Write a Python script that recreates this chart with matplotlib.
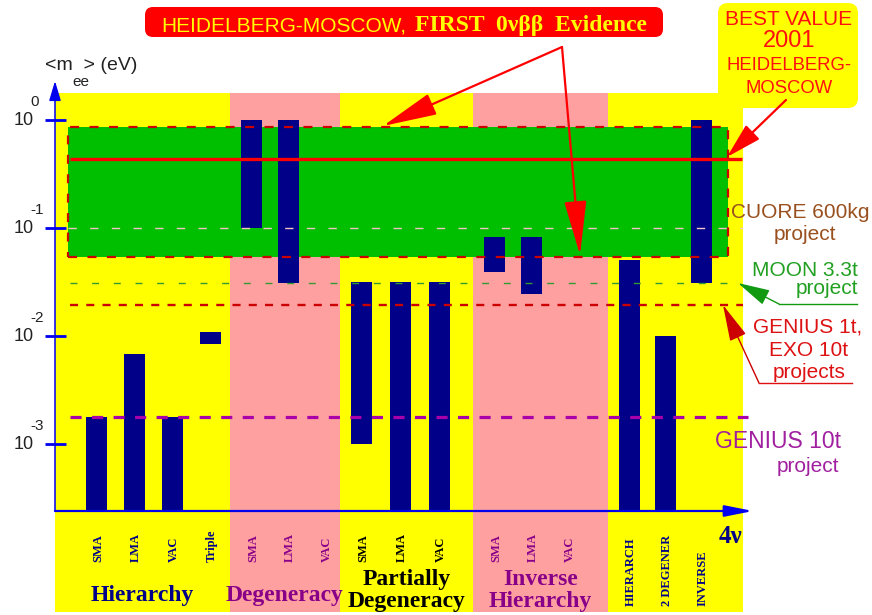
import matplotlib.pyplot as plt
from matplotlib.patches import Rectangle, FancyBboxPatch, FancyArrowPatch
from matplotlib.lines import Line2D
from matplotlib.transforms import blended_transform_factory

plt.rcParams['font.family'] = ['Liberation Sans', 'DejaVu Sans']
plt.rcParams['lines.scale_dashes'] = False

# groups of scenarios and the <m_ee> range of each bar (eV)
# None = no bar, 0 = bar goes down to the axis
groups = ["Hierarchy", "Degeneracy", "Partially\nDegeneracy", "Inverse\nHierarchy", "4ν"]
slots = [["SMA", "LMA", "VAC", "Triple"],
         ["SMA", "LMA", "VAC"],
         ["SMA", "LMA", "VAC"],
         ["SMA", "LMA", "VAC"],
         ["HIERARCH", "2 DEGENER", "INVERSE"]]
m_top = [[1.8e-3, 6.8e-3, 1.8e-3, 1.09e-2],
         [1.0, 1.0, None],
         [3.2e-2, 3.2e-2, 3.2e-2],
         [8.3e-2, 8.3e-2, None],
         [5.1e-2, 1.0e-2, 1.0]]
m_bot = [[0, 0, 0, 8.5e-3],
         [0.1, 3.1e-2, None],
         [1.0e-3, 0, 0],
         [3.95e-2, 2.45e-2, None],
         [0, 0, 3.1e-2]]

# experiment values / sensitivities (eV)
hm_range = (0.054, 0.87)
hm_best = 0.44
cuore = 0.1
moon = 0.031
genius_1t = 0.0195
genius_10t = 1.8e-3
yticks = [0, -1, -2, -3]

NAVY = '#000088'
PURPLE = '#880088'
BLUE = '#0000EE'
label_colors = [NAVY, PURPLE, 'black', PURPLE, NAVY]
panel_colors = ['#FFFF00', '#FFA0A0', '#FFFF00', '#FFA0A0', '#FFFF00']

# layout (axis x units = pixels from the y axis)
panel_edges = [0, 175, 285, 418, 553, 688]
slot_start = [41.5, 21.5, 21.5, 21.5, 21.5]
slot_pitch = [38, 37, 39, 37, 36]
floor = 10 ** -3.617

W, H = 872, 615
fig = plt.figure(figsize=(W / 100, H / 100), dpi=100)
inch = fig.dpi_scale_trans


def P(x, y):
    return (x / 100, (H - y) / 100)


ax = fig.add_axes([55 / W, 1 - 612 / H, 688 / W, 519 / H])
ax.set_yscale('log')
ax.set_ylim(10 ** -4.551, 10 ** 0.2498)
ax.set_xlim(0, 688)
for s in ax.spines.values():
    s.set_visible(False)
ax.tick_params(axis='both', which='both', length=0, labelleft=False, labelbottom=False)

lab_tr = blended_transform_factory(ax.transData, inch)

for g in range(len(groups)):
    ax.axvspan(panel_edges[g], panel_edges[g + 1], color=panel_colors[g], lw=0, zorder=0)
    for i, name in enumerate(slots[g]):
        x = panel_edges[g] + slot_start[g] + i * slot_pitch[g]
        top, bot = m_top[g][i], m_bot[g][i]
        if top is not None:
            b = floor if bot == 0 else bot
            ax.bar(x, top - b, bottom=b, width=21.5, color=NAVY, zorder=3)
        ybase = 606 if g == 4 else 562
        ax.text(x + 1.5, P(0, ybase)[1], name, transform=lab_tr, rotation=90,
                ha='center', va='bottom', fontsize=9, fontweight='bold',
                family='Liberation Serif', color=label_colors[g])
    if g < 4:
        xc = (panel_edges[g] + panel_edges[g + 1]) / 2
        lines = groups[g].split("\n")
        bases = [601] if len(lines) == 1 else [585, 607]
        for txt, yb in zip(lines, bases):
            ax.text(xc, P(0, yb)[1], txt, transform=lab_tr, ha='center', va='baseline',
                    fontsize=17, fontweight='bold', family='Liberation Serif',
                    color=label_colors[g], clip_on=False)

fig.text(*P(742, 543), groups[4], transform=inch, ha='right', va='baseline',
         fontsize=18, fontweight='bold', family='Liberation Serif', color=NAVY)

# HM evidence band
ax.add_patch(Rectangle((13, hm_range[0]), 660, hm_range[1] - hm_range[0],
                       fc='#00BF00', ec='none', zorder=2))
ax.add_patch(Rectangle((13, hm_range[0]), 660, hm_range[1] - hm_range[0],
                       fill=False, ec='#CC0000', lw=1.6, ls=(0, (6.5, 7.5)), zorder=4))
ax.hlines(hm_best, 15, 687, color='#FF0000', lw=2.4, zorder=5)
ax.hlines(cuore, 13, 688, color='#F4C4C4', lw=1.0, ls=(0, (6, 9.6)), zorder=5)
ax.hlines(moon, 15, 685, color='#339933', lw=1.0, ls=(0, (5, 10.6)), zorder=5)
ax.hlines(genius_1t, 15, 688, color='#CC0000', lw=1.7, ls=(0, (5.8, 5.9)), zorder=5)
ax.hlines(genius_10t, 15, 693, color='#AA00AA', lw=2.3, ls=(0, (8, 7.5)), zorder=5,
          clip_on=False)

# axes with arrows
fig.add_artist(FancyArrowPatch(P(55, 511), P(55, 81), transform=inch, color=BLUE, lw=1.1,
                               arrowstyle='-|>,head_length=12,head_width=3.6',
                               shrinkA=0, shrinkB=0))
fig.add_artist(FancyArrowPatch(P(55, 511), P(753, 511), transform=inch, color=BLUE, lw=1.6,
                               arrowstyle='-|>,head_length=17,head_width=3.4',
                               shrinkA=0, shrinkB=0))
for k in yticks:
    ax.hlines(10.0 ** k, -10, 11, color=BLUE, lw=2, clip_on=False, zorder=6)
    ax.text(-21, 10.0 ** k, "10", ha='right', va='center', fontsize=13, color='#222222',
            clip_on=False)
    ax.annotate(str(k), (-25, 10.0 ** k), xytext=(0, 13), textcoords='offset points',
                ha='left', va='center', fontsize=11, color='#222222', annotation_clip=False)

fig.text(*P(45, 65), "<m  > (eV)", transform=inch, ha='left', va='center',
         fontsize=14, color='#222222')
fig.text(*P(72, 82), "ee", transform=inch, ha='left', va='center', fontsize=11,
         color='#222222')

# title banner
fig.add_artist(FancyBboxPatch(P(145, 37), 5.18, 0.30, transform=inch,
                              boxstyle='round,pad=0,rounding_size=0.08', fc='#FF0000', ec='none'))
fig.text(*P(161, 31), "HEIDELBERG-MOSCOW,", transform=inch, ha='left', va='baseline',
         fontsize=15, color='#FFFF00')
fig.text(*P(415, 31), "FIRST  0νββ  Evidence", transform=inch, ha='left', va='baseline',
         fontsize=17, fontweight='bold', family='Liberation Serif', color='#FFFF00')
for tip in [P(383, 126), P(580, 255)]:
    fig.add_artist(FancyArrowPatch(P(562, 47), tip, transform=inch, color='#FF0000', lw=1.6,
                                   arrowstyle='-|>,head_length=34,head_width=7',
                                   shrinkA=0, shrinkB=0))

# best value box
fig.add_artist(FancyBboxPatch(P(718, 108), 1.40, 1.05, transform=inch,
                              boxstyle='round,pad=0,rounding_size=0.1', fc='#FFFF00', ec='none'))
for txt, yb, fs in [("BEST VALUE", 25, 15), ("2001", 47, 17),
                    ("HEIDELBERG-", 70, 13.3), ("MOSCOW", 93, 13.3)]:
    fig.text(*P(789, yb), txt, transform=inch, ha='center', va='baseline', fontsize=fs,
             color='#FF1010')
fig.add_artist(FancyArrowPatch(P(786, 100), P(727, 157), transform=inch, color='#FF0000',
                               lw=1.6, arrowstyle='-|>,head_length=22,head_width=6',
                               shrinkA=0, shrinkB=0))

# projects on the right
fig.text(*P(800, 212), "CUORE 600kg", transform=inch, ha='center', va='center',
         fontsize=15, color='#99501E')
fig.text(*P(805, 234), "project", transform=inch, ha='center', va='center',
         fontsize=15, color='#99501E')

fig.text(*P(858, 270), "MOON 3.3t", transform=inch, ha='right', va='center',
         fontsize=15, color='#22A022')
fig.text(*P(858, 289), "project", transform=inch, ha='right', va='center',
         fontsize=15, color='#22A022')
fig.add_artist(Line2D([P(857, 304)[0], P(779, 304)[0]], [P(857, 304)[1], P(779, 304)[1]],
                      transform=inch, color='#119911', lw=1))
fig.add_artist(FancyArrowPatch(P(779, 304), P(738, 283), transform=inch, color='#119911',
                               lw=1, arrowstyle='-|>,head_length=20,head_width=5',
                               shrinkA=0, shrinkB=0))

fig.text(*P(808, 327), "GENIUS 1t,", transform=inch, ha='center', va='center',
         fontsize=15, color='#DD1111')
fig.text(*P(809, 350), "EXO 10t", transform=inch, ha='center', va='center',
         fontsize=15, color='#DD1111')
fig.text(*P(809, 372), "projects", transform=inch, ha='center', va='center',
         fontsize=15, color='#DD1111')
fig.add_artist(Line2D([P(852, 383)[0], P(759, 383)[0]], [P(852, 383)[1], P(759, 383)[1]],
                      transform=inch, color='#DD1111', lw=1))
fig.add_artist(FancyArrowPatch(P(759, 383), P(723, 305), transform=inch, color='#CC0000',
                               lw=1, arrowstyle='-|>,head_length=23,head_width=5.5',
                               shrinkA=0, shrinkB=0))

fig.text(*P(778, 442), "GENIUS 10t", transform=inch, ha='center', va='center',
         fontsize=16.5, color='#A020A0')
fig.text(*P(808, 467), "project", transform=inch, ha='center', va='center',
         fontsize=15, color='#A020A0')

fig.savefig('out.png', dpi=100)
